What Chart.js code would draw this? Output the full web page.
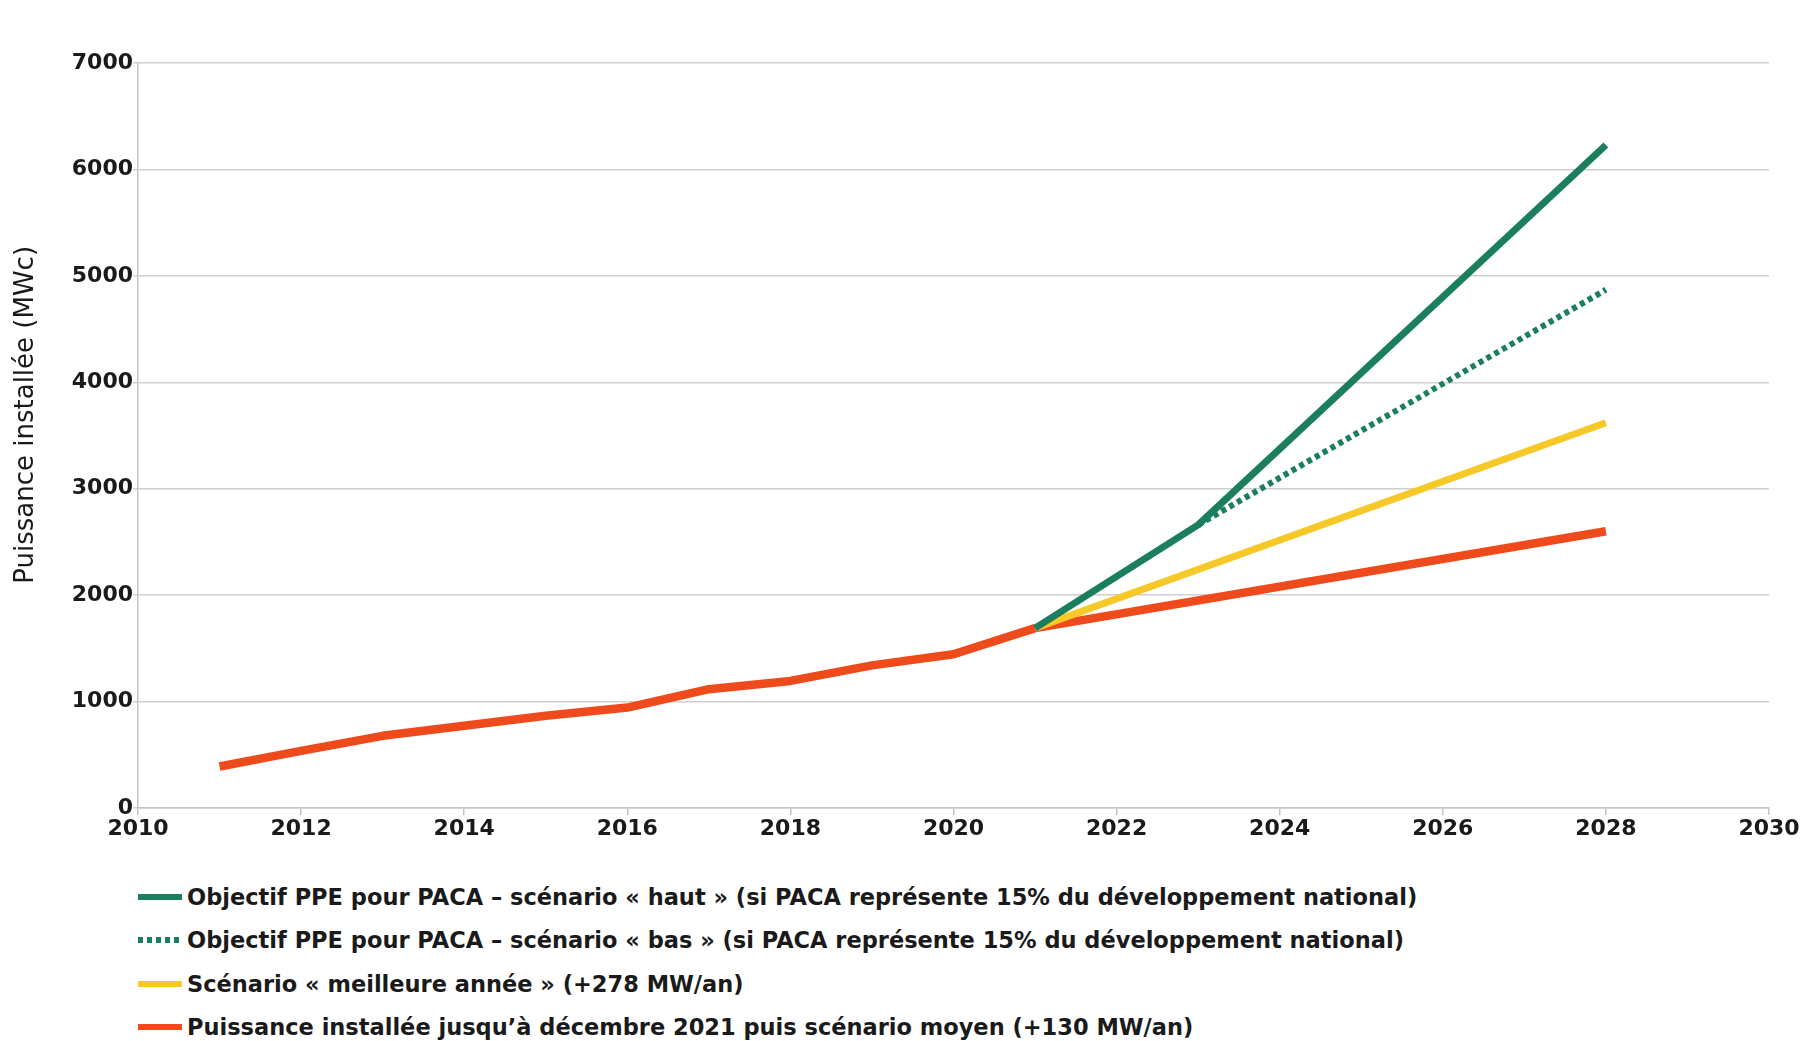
<!DOCTYPE html>
<html><head><meta charset="utf-8">
<script src="https://cdn.jsdelivr.net/npm/chart.js@4"></script>
<style>
html,body{margin:0;padding:0;background:#fff;width:1803px;height:1041px;overflow:hidden}
#wrap{position:absolute;left:0;top:0;width:1803px;height:870px}
#legend{position:absolute;left:138px;top:875px;font:bold 22.5px "DejaVu Sans";color:#1a1a1a}
.item{height:43.5px;display:flex;align-items:center;white-space:nowrap}
.sw{width:44px;height:6px;margin-right:5px;flex:none}
</style></head><body>
<div id="wrap"><canvas id="c" width="1803" height="870"></canvas></div>
<div id="legend"></div>
<script>
// ---- data ----
const histYears   = [2011, 2012, 2013, 2014, 2015, 2016, 2017, 2018, 2019, 2020, 2021, 2028];
const histValues  = [390, 537, 678, 772, 866, 944, 1116, 1194, 1340, 1444, 1690, 2600];
const bestYears   = [2021, 2028];
const bestValues  = [1690, 3620];
const highYears   = [2021, 2023, 2028];
const highValues  = [1690, 2660, 6230];
const lowYears    = [2023, 2028];
const lowValues   = [2660, 4870];
const seriesLabels = [
  "Objectif PPE pour PACA – scénario « haut » (si PACA représente 15% du développement national)",
  "Objectif PPE pour PACA – scénario « bas » (si PACA représente 15% du développement national)",
  "Scénario « meilleure année » (+278 MW/an)",
  "Puissance installée jusqu’à décembre 2021 puis scénario moyen (+130 MW/an)"
];
const yTitle = "Puissance installée (MWc)";
const xMin = 2010, xMax = 2030, xStep = 2;
const yMin = 0, yMax = 7000, yStep = 1000;

const GREEN = "#1b7f5f", YELLOW = "#f7c928", RED = "#ef4a1b";
const pts = (xs, ys) => xs.map((x, i) => ({x, y: ys[i]}));

new Chart(document.getElementById("c"), {
  type: "line",
  data: {
    datasets: [
      {label: seriesLabels[0], data: pts(highYears, highValues), borderColor: GREEN, borderWidth: 7, order: 1},
      {label: seriesLabels[1], data: pts(lowYears, lowValues), borderColor: GREEN, borderWidth: 6, borderDash: [5, 4], order: 2},
      {label: seriesLabels[2], data: pts(bestYears, bestValues), borderColor: YELLOW, borderWidth: 7, order: 3},
      {label: seriesLabels[3], data: pts(histYears, histValues), borderColor: RED, borderWidth: 8.5, order: 4}
    ]
  },
  options: {
    responsive: false, animation: false, devicePixelRatio: 1,
    elements: {point: {radius: 0}, line: {tension: 0, borderJoinStyle: "round"}},
    layout: {padding: {left: 0, top: 63, right: 34, bottom: 0}},
    plugins: {legend: {display: false}, tooltip: {enabled: false}},
    scales: {
      x: {
        type: "linear", min: xMin, max: xMax,
        ticks: {stepSize: xStep, callback: v => String(v), color: "#1a1a1a",
                font: {family: "DejaVu Sans", weight: "bold", size: 22}, padding: 1, maxRotation: 0},
        grid: {drawOnChartArea: false, drawTicks: true, tickLength: 7, color: "#c4c4c4", lineWidth: 1.5},
        border: {color: "#c4c4c4", width: 1.5},
        afterFit: s => { s.height = 62; }
      },
      y: {
        min: yMin, max: yMax,
        ticks: {stepSize: yStep, callback: v => String(v), color: "#1a1a1a",
                font: {family: "DejaVu Sans", weight: "bold", size: 22}, padding: 0},
        grid: {color: "#cfcfcf", lineWidth: 1.5, tickLength: 5},
        border: {color: "#c4c4c4", width: 1.5},
        title: {display: true, text: "     " + yTitle, color: "#1a1a1a",
                font: {family: "DejaVu Sans", size: 26}, padding: {top: 11, bottom: 0}},
        afterFit: s => { s.width = 138; }
      }
    }
  }
});

// HTML legend
const lg = document.getElementById("legend");
const swatches = [
  "background:" + GREEN,
  "background:repeating-linear-gradient(90deg," + GREEN + " 0 5px, transparent 5px 9px)",
  "background:" + YELLOW,
  "background:" + RED
];
seriesLabels.forEach((t, i) => {
  const d = document.createElement("div"); d.className = "item";
  const s = document.createElement("span"); s.className = "sw"; s.style.cssText = swatches[i];
  const tx = document.createElement("span"); tx.textContent = t;
  d.appendChild(s); d.appendChild(tx); lg.appendChild(d);
});
</script>
</body></html>
